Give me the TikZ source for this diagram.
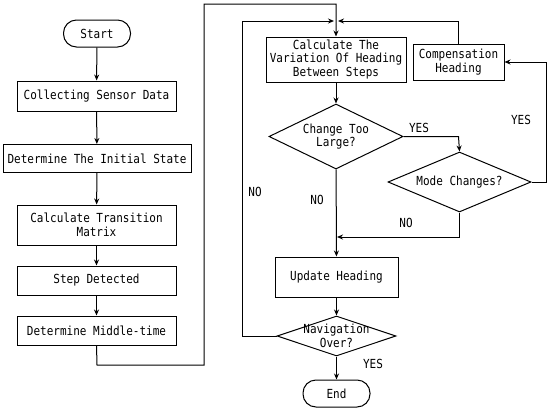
\documentclass[tikz,border=0pt]{standalone}
\usepackage{fontspec}
\newfontfamily\diafont[FakeStretch=0.88]{DejaVu Sans Mono}
\usetikzlibrary{shapes.geometric,arrows.meta}
\begin{document}
\begin{tikzpicture}[x=1pt,y=-1pt,
  every node/.style={font=\diafont\fontsize{12.5}{13.5}\selectfont},
  box/.style={draw,line width=1pt,rectangle,inner sep=0pt,align=center},
  pill/.style={draw,line width=1pt,rectangle,rounded corners=13pt,inner sep=0pt,minimum width=67pt,minimum height=27pt},
  dia/.style={draw,line width=1pt,diamond,inner sep=0pt},
  txt/.style={inner sep=0pt,align=center},
  lbl/.style={inner sep=0pt},
  arr/.style={line width=1pt,-{Stealth[length=6pt,width=5pt]}}]
\useasboundingbox (0,0) rectangle (550,410);
% left column
\node[pill] (start) at (97,33.5) {Start};
\node[box,minimum width=159pt,minimum height=30pt] (collect) at (96.5,96) {Collecting Sensor Data};
\node[box,minimum width=188pt,minimum height=28pt] (init) at (97,158.5) {Determine The Initial State};
\node[box,minimum width=159pt,minimum height=40pt] (trans) at (96.5,225) {Calculate Transition\\Matrix};
\node[box,minimum width=159pt,minimum height=29pt] (step) at (96.5,280.5) {Step Detected};
\node[box,minimum width=159pt,minimum height=29pt] (mid) at (96.5,330.5) {Determine Middle-time};
% right column
\node[box,minimum width=140pt,minimum height=45pt] (calc) at (336,59.5) {Calculate The\\Variation Of Heading\\Between Steps};
\node[box,minimum width=91pt,minimum height=36pt] (comp) at (458.5,62) {Compensation\\Heading};
\node[dia,minimum width=134pt,minimum height=65pt] (chg) at (336,136.5) {};
\node[txt] (chgt) at (chg.center) {Change Too\\Large?};
\node[dia,minimum width=143pt,minimum height=60pt] (mode) at (459.5,182) {};
\node[txt] (modet) at (mode.center) {Mode Changes?};
\node[box,minimum width=123pt,minimum height=40pt] (upd) at (336.5,277) {Update Heading};
\node[dia,minimum width=119pt,minimum height=40pt] (nav) at (336.5,336) {};
\node[txt] (navt) at (nav.center) {Navigation\\Over?};
\node[pill] (end) at (336.5,393.5) {End};
% junction coordinates
\coordinate (jtop) at (336,21);
\coordinate (jmid) at (336,237);
% left column arrows
\draw[arr] (start) -- (collect);
\draw[arr] (collect) -- (init);
\draw[arr] (init) -- (trans);
\draw[arr] (trans) -- (step);
\draw[arr] (step) -- (mid);
\draw[arr] (mid.south) -- (97,365) -- (204,365) -- (204,4) -- (336,4) -- (calc.north);
% right column
\draw[arr] (calc) -- (chg);
\draw[arr] (chg.east) -- (458.5,136.5) -- (mode.north);
\draw[arr] (mode.east) -- (546,182) -- (546,62) -- (comp.east);
\draw[arr] (comp.north) -- (458.5,21) -- ([xshift=2pt]jtop);
\draw[arr] (nav.west) -- (242,336) -- (242,21) -- ([xshift=-2pt]jtop);
\draw[arr] (mode.south) -- (459.5,237) -- ([xshift=1pt]jmid);
\draw[arr] (chg) -- (upd);
\draw[arr] (upd) -- (nav);
\draw[arr] (nav) -- (end);
% labels
\node[lbl] (l1) at (419,128) {YES};
\node[lbl] (l2) at (521,120) {YES};
\node[lbl] (l3) at (255,192) {NO};
\node[lbl] (l4) at (317,200) {NO};
\node[lbl] (l5) at (406,223) {NO};
\node[lbl] (l6) at (373,364) {YES};
\end{tikzpicture}
\end{document}
